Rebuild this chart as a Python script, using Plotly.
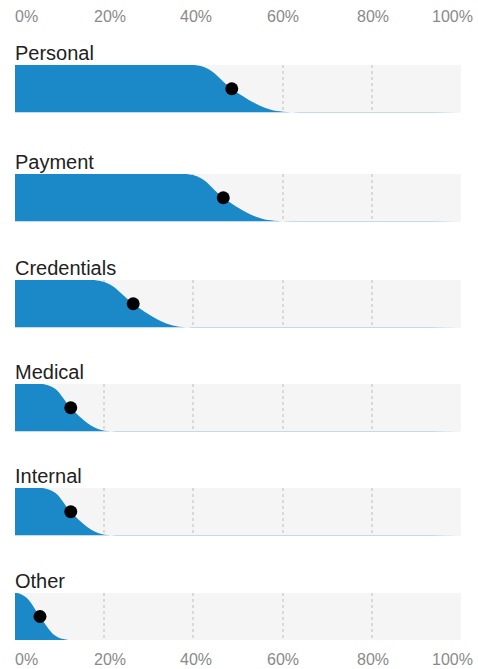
import plotly.graph_objects as go
from plotly.subplots import make_subplots

categories = ["Personal", "Payment", "Credentials", "Medical", "Internal", "Other"]
# x positions (%): where the area is at full height,
# at 90 %, at the dot (50 %), at 10 % and where it reaches zero
x_full = [40.3, 38.5, 17.8, 6.2, 6.2, 0.5]
x_90 = [43.6, 41.9, 21.4, 9.0, 9.0, 2.6]
midpoint = [48.6, 46.7, 26.5, 12.5, 12.5, 5.6]
x_10 = [56.0, 54.0, 33.5, 17.5, 17.5, 8.9]
x_zero = [62.0, 60.0, 38.5, 21.5, 21.5, 12.0]
tick_values = [0, 20, 40, 60, 80, 100]
tick_labels = ["0%", "20%", "40%", "60%", "80%", "100%"]

BLUE = "#1b88c8"
FONT = "Liberation Sans, Arial, Helvetica, sans-serif"

# layout: band tops in pixels, band height, plot area
W, H = 478, 669
M_L, M_R, M_T, M_B = 15, 17, 65, 29
band_tops_px = [65, 174, 280, 384, 488, 593]
band_h_px = 47.5
plot_h = H - M_T - M_B

n = len(categories)
fig = make_subplots(rows=n, cols=1, shared_xaxes=False, vertical_spacing=0.05)

for i, cat in enumerate(categories):
    r = i + 1
    xs = [0, x_full[i], x_90[i], midpoint[i], x_10[i], x_zero[i], 100]
    ys = [1, 1, 0.9, 0.5, 0.1, 0, 0]
    fig.add_trace(go.Scatter(
        x=xs, y=ys, mode="lines", line=dict(shape="spline", width=0, color=BLUE),
        fill="tozeroy", fillcolor=BLUE, hoverinfo="skip", showlegend=False,
    ), row=r, col=1)
    fig.add_trace(go.Scatter(
        x=[midpoint[i]], y=[0.5], mode="markers",
        marker=dict(size=13, color="black"), showlegend=False,
        cliponaxis=False, hoverinfo="skip",
    ), row=r, col=1)
    top = 1 - (band_tops_px[i] - M_T) / plot_h
    bot = top - band_h_px / plot_h
    fig.update_xaxes(range=[0, 100], tickvals=tick_values, showticklabels=False,
                     showgrid=True, gridcolor="#d9d9d9", gridwidth=1.5, griddash="3px,3px",
                     zeroline=False, showline=False, ticks="", fixedrange=True,
                     row=r, col=1)
    fig.update_yaxes(range=[0, 1], visible=False, showgrid=False, zeroline=False,
                     domain=[max(bot, 0), min(top, 1)], fixedrange=True,
                     row=r, col=1)
    yd = "y domain" if r == 1 else f"y{r} domain"
    xd = "x domain" if r == 1 else f"x{r} domain"
    fig.add_annotation(text=cat, xref=xd, yref=yd, x=0, y=1, xanchor="left",
                       yanchor="bottom", showarrow=False, xshift=-2, yshift=-1,
                       font=dict(family=FONT, size=20, color="#222222"))

# tick labels top and bottom
shifts = [-2, 6, 3, 0, 1, 14]
anchors = ["left", "center", "center", "center", "center", "right"]
for v, lab, s, a in zip(tick_values, tick_labels, shifts, anchors):
    for yy in (1 + (M_T - 17) / plot_h, -19 / plot_h):
        fig.add_annotation(text=lab, xref="x", yref="paper", x=v, y=yy, xanchor=a,
                           yanchor="middle", showarrow=False, xshift=s,
                           font=dict(family=FONT, size=16, color="#8a8a8a"))

fig.update_layout(
    width=W, height=H,
    margin=dict(l=M_L, r=M_R, t=M_T, b=M_B),
    plot_bgcolor="#f5f5f5", paper_bgcolor="white",
    showlegend=False,
)

fig.write_html("out.html", config={"displayModeBar": False},
               post_script="document.body.style.margin='0px';")
